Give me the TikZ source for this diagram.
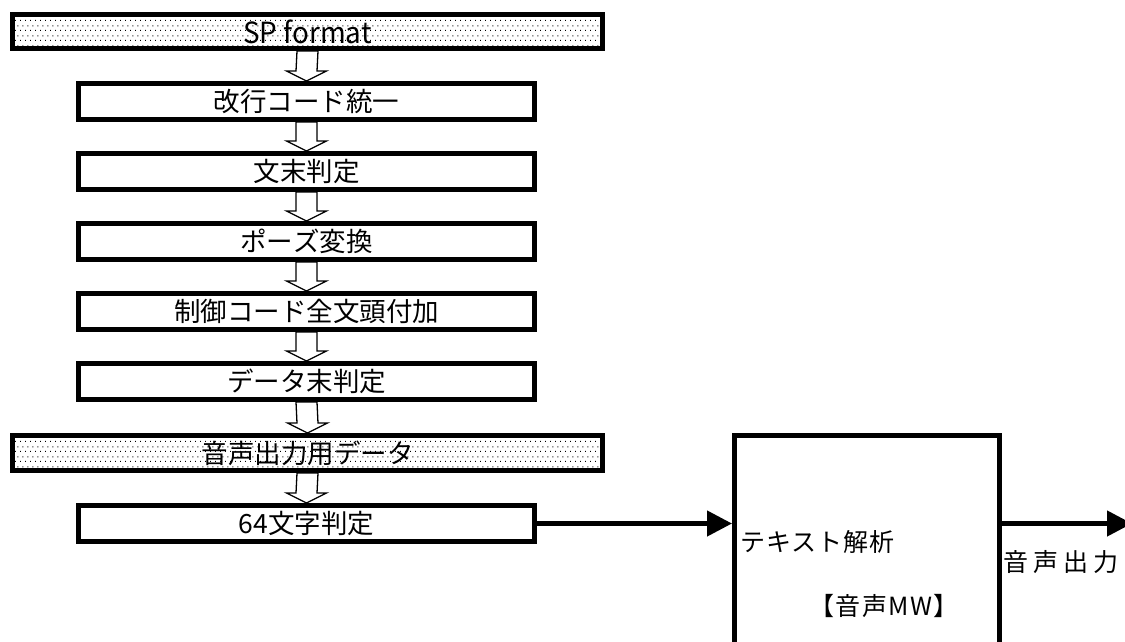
\documentclass[tikz,border=0pt]{standalone}
\usepackage{fontspec}
\newfontfamily\jp{Noto Sans CJK JP}
\usetikzlibrary{arrows.meta,calc,patterns}
\pgfdeclarepatternformonly{sdots}{\pgfpointorigin}{\pgfpoint{5.4pt}{10pt}}{\pgfpoint{5.4pt}{10pt}}{%
  \pgfpathrectangle{\pgfpoint{0pt}{0pt}}{\pgfpoint{1.1pt}{1.1pt}}%
  \pgfpathrectangle{\pgfpoint{2.7pt}{5pt}}{\pgfpoint{1.1pt}{1.1pt}}%
  \pgfusepath{fill}}
\ExplSyntaxOn
\NewDocumentCommand\lsp{O{0pt}m}{\tl_map_inline:nn{#2}{##1\kern #1}\kern -#1}
\ExplSyntaxOff
\tikzset{
  box/.style={draw, line width=5pt, minimum width=456pt, minimum height=36pt, inner sep=0pt,
    font=\jp\fontsize{26.5}{30}\selectfont},
  wbox/.style={box, minimum width=590pt, minimum height=34pt, pattern=sdots},
  hollow/.style={draw, line width=1.3pt, fill=white, line join=miter},
  link/.style={line width=4.5pt, -{Triangle[length=25pt,width=25pt]}},
  txt/.style={inner sep=0pt, font=\jp\fontsize{25}{30}\selectfont}
}
\newcommand\harrow[2]{\draw[hollow] ($(#1.south)+(-10.5,0)$) -- ($(#2.north)+(-10.5,-10)$) -- ++(-9.5,0) -- (#2.north) -- ++(20,-10) -- ++(-9.5,0) -- ($(#1.south)+(10.5,0)$) -- cycle;}
\begin{document}
\begin{tikzpicture}[x=1pt,y=-1pt]
\useasboundingbox (0,0) rectangle (1125,641);
\node[wbox] (b1) at (307.5,31.5) {\scalebox{1.05}[1.1]{SP format}};
\node[box] (b2) at (306.5,101.5) {\lsp{改行コード統一}};
\node[box] (b3) at (306.5,171.5) {\lsp{文末判定}};
\node[box] (b4) at (306.5,241.5) {\lsp{ポーズ変換}};
\node[box] (b5) at (306.5,311.5) {\lsp{制御コード全文頭付加}};
\node[box] (b6) at (306.5,381.5) {\lsp{データ末判定}};
\node[wbox, minimum height=35pt] (b7) at (307.5,453) {\lsp{音声出力用データ}};
\node[box] (b8) at (306.5,523.5) {\lsp{64文字判定}};
\harrow{b1}{b2}
\harrow{b2}{b3}
\harrow{b3}{b4}
\harrow{b4}{b5}
\harrow{b5}{b6}
\harrow{b6}{b7}
\harrow{b7}{b8}
\node[draw, line width=5pt, minimum width=265pt, minimum height=260pt, inner sep=0pt] (mw) at (867,565.5) {};
\node[txt, anchor=west] (ta) at (740,542) {\lsp[0.8pt]{テキスト解析}};
\node[txt] (mwl) at (884,606) {\lsp[1.5pt]{【音声MW】}};
\node[txt, anchor=west] (vo) at (1003,562) {\lsp[5pt]{音声出力}};
\coordinate (out) at (1132,523.5);
\draw[link] (b8.east) -- (b8.east -| mw.west);
\draw[link] (b8.east -| mw.east) -- (out);
\end{tikzpicture}
\end{document}
